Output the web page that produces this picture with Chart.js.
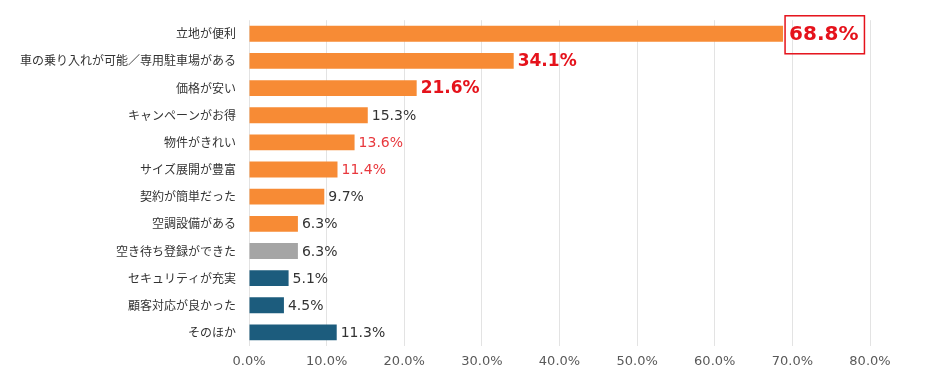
<!DOCTYPE html>
<html><head><meta charset="utf-8">
<script src="https://cdn.jsdelivr.net/npm/chart.js@4/dist/chart.umd.min.js"></script>
<style>html,body{margin:0;padding:0;background:#fff;}#wrap{width:929px;height:381px;}</style>
</head><body><div id="wrap"><canvas id="c" width="929" height="381"></canvas></div>
<script>
const categories = ['立地が便利','車の乗り入れが可能／専用駐車場がある','価格が安い','キャンペーンがお得','物件がきれい','サイズ展開が豊富','契約が簡単だった','空調設備がある','空き待ち登録ができた','セキュリティが充実','顧客対応が良かった','そのほか'];
const values = [68.8,34.1,21.6,15.3,13.6,11.4,9.7,6.3,6.3,5.1,4.5,11.3];
const xTicks = [0,10,20,30,40,50,60,70,80];

const ORANGE='#F78B35', GRAY='#A5A5A5', BLUE='#1C5C7D';
const barColors = [ORANGE,ORANGE,ORANGE,ORANGE,ORANGE,ORANGE,ORANGE,ORANGE,GRAY,BLUE,BLUE,BLUE];
const F = '"DejaVu Sans","Noto Sans",sans-serif';
const labelStyles = [
  {color:'#E5121B',font:'bold 20px '+F,box:true},
  {color:'#E5121B',font:'bold 17px '+F},
  {color:'#E5121B',font:'bold 17px '+F},
  {color:'#333333',font:'14px '+F},
  {color:'#E8383D',font:'14px '+F},
  {color:'#E8383D',font:'14px '+F},
  {color:'#333333',font:'14px '+F},
  {color:'#333333',font:'14px '+F},
  {color:'#333333',font:'14px '+F},
  {color:'#333333',font:'14px '+F},
  {color:'#333333',font:'14px '+F},
  {color:'#333333',font:'14px '+F}
];

const valueLabels = {
  id:'valueLabels',
  afterDatasetsDraw(chart){
    const ctx = chart.ctx;
    const meta = chart.getDatasetMeta(0);
    meta.data.forEach((bar,i)=>{
      const st = labelStyles[i];
      const txt = values[i].toFixed(1)+'%';
      ctx.save();
      ctx.font = st.font;
      ctx.fillStyle = st.color;
      ctx.textBaseline = 'middle';
      ctx.textAlign = 'left';
      const y = bar.y + 1;
      if (st.box){
        const w = ctx.measureText(txt).width;
        ctx.strokeStyle = '#E5121B';
        ctx.lineWidth = 1.5;
        ctx.strokeRect(bar.x + 2, bar.y - 19 + 1, w + 10, 38);
        ctx.fillText(txt, bar.x + 6, y);
      } else {
        ctx.fillText(txt, bar.x + 4, y);
      }
      ctx.restore();
    });
  }
};

new Chart(document.getElementById('c'), {
  type:'bar',
  data:{labels:categories,datasets:[{data:values,backgroundColor:barColors,borderWidth:0,barPercentage:0.6,categoryPercentage:0.97}]},
  options:{
    indexAxis:'y',responsive:false,animation:false,
    layout:{padding:{top:16,right:59,bottom:0,left:0}},
    plugins:{legend:{display:false},tooltip:{enabled:false}},
    scales:{
      x:{min:0,max:80,
        afterBuildTicks(s){s.ticks = xTicks.map(v=>({value:v}));},
        afterFit(s){s.height=35;},
        grid:{color:'#E3E3E3',drawTicks:false,lineWidth:1},
        border:{display:false},
        ticks:{padding:8,color:'#595959',font:{family:F,size:13},callback:v=>v.toFixed(1)+'%'}
      },
      y:{
        afterFit(s){s.width=249;},
        grid:{display:false,drawTicks:false},
        border:{display:false},
        ticks:{padding:13,color:'#333333',font:{family:'"Noto Sans CJK JP",sans-serif',size:12}}
      }
    }
  },
  plugins:[valueLabels]
});
</script></body></html>
